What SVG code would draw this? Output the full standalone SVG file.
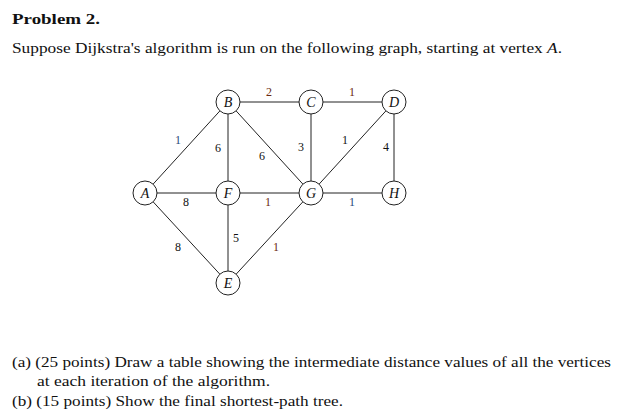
<svg xmlns="http://www.w3.org/2000/svg" width="621" height="416" viewBox="0 0 621 416">
<style>
text{font-family:"Liberation Serif","DejaVu Serif",serif;fill:#111}
.t{font-size:15px}
.n{font-size:14px;font-style:italic;text-anchor:middle}
.w{font-size:12px;text-anchor:middle}
.bl{fill:#2a4a7a}.br{fill:#6a2a10}
circle{fill:#fff;stroke:#222;stroke-width:1}
#edges line{stroke:#222;stroke-width:1}
</style>
<rect width="621" height="416" fill="#fff"/>
<text class="t" x="12" y="24" font-weight="bold" textLength="88" lengthAdjust="spacingAndGlyphs">Problem 2.</text>
<text class="t" x="12" y="53" textLength="550" lengthAdjust="spacingAndGlyphs">Suppose Dijkstra's algorithm is run on the following graph, starting at vertex <tspan font-style="italic">A</tspan>.</text>
<g id="edges">
<line x1="145" y1="193" x2="228" y2="102"/>
<line x1="145" y1="193" x2="228" y2="193"/>
<line x1="145" y1="193" x2="228" y2="283"/>
<line x1="228" y1="102" x2="311" y2="102"/>
<line x1="311" y1="102" x2="394" y2="102"/>
<line x1="228" y1="102" x2="228" y2="193"/>
<line x1="228" y1="102" x2="311" y2="193"/>
<line x1="311" y1="102" x2="311" y2="193"/>
<line x1="394" y1="102" x2="311" y2="193"/>
<line x1="394" y1="102" x2="394" y2="193"/>
<line x1="228" y1="193" x2="311" y2="193"/>
<line x1="311" y1="193" x2="394" y2="193"/>
<line x1="228" y1="193" x2="228" y2="283"/>
<line x1="311" y1="193" x2="228" y2="283"/>
<text class="w bl" x="178" y="144">1</text>
<text class="w" x="218" y="152">6</text>
<text class="w" x="262" y="160">6</text>
<text class="w br" x="269" y="96">2</text>
<text class="w br" x="352" y="96">1</text>
<text class="w" x="301" y="151">3</text>
<text class="w" x="345" y="144">1</text>
<text class="w" x="386" y="151">4</text>
<text class="w" x="186" y="206">8</text>
<text class="w br" x="268" y="206">1</text>
<text class="w bl" x="352" y="206">1</text>
<text class="w" x="178" y="251">8</text>
<text class="w" x="236" y="242">5</text>
<text class="w br" x="276" y="251">1</text>
</g>
<g id="A"><circle cx="145" cy="193" r="12"/><text class="n" x="145" y="198">A</text></g>
<g id="B"><circle cx="228" cy="102" r="12"/><text class="n" x="228" y="107">B</text></g>
<g id="C"><circle cx="311" cy="102" r="12"/><text class="n" x="311" y="107">C</text></g>
<g id="D"><circle cx="394" cy="102" r="12"/><text class="n" x="394" y="107">D</text></g>
<g id="F"><circle cx="228" cy="193" r="12"/><text class="n" x="228" y="198">F</text></g>
<g id="G"><circle cx="311" cy="193" r="12"/><text class="n" x="311" y="198">G</text></g>
<g id="H"><circle cx="394" cy="193" r="12"/><text class="n" x="394" y="198">H</text></g>
<g id="E"><circle cx="228" cy="283" r="12"/><text class="n" x="228" y="288">E</text></g>
<text class="t" x="12" y="367" textLength="599" lengthAdjust="spacingAndGlyphs">(a) (25 points) Draw a table showing the intermediate distance values of all the vertices</text>
<text class="t" x="37" y="386" textLength="233" lengthAdjust="spacingAndGlyphs">at each iteration of the algorithm.</text>
<text class="t" x="12" y="406" textLength="331" lengthAdjust="spacingAndGlyphs">(b) (15 points) Show the final shortest-path tree.</text>
</svg>
